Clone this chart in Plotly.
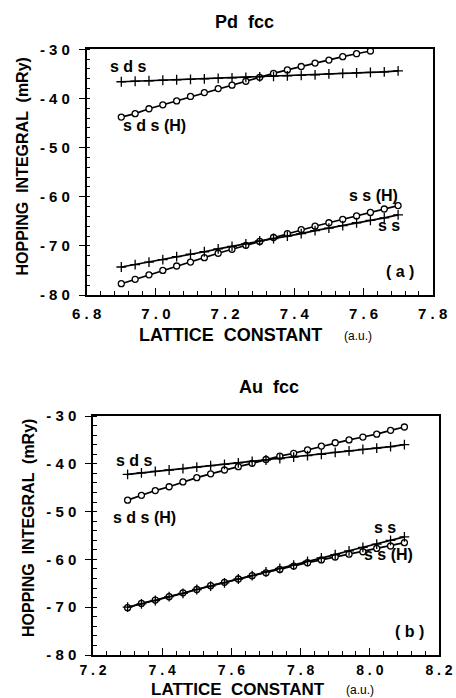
import plotly.graph_objects as go

# ---------------- data ----------------
# Panel (a) Pd fcc
pd_x = [6.90, 6.94, 6.98, 7.02, 7.06, 7.10, 7.14, 7.18, 7.22, 7.26, 7.30,
        7.34, 7.38, 7.42, 7.46, 7.50, 7.54, 7.58, 7.62, 7.66, 7.70]
pd_sds = [-36.6, -36.5, -36.4, -36.3, -36.2, -36.1, -36.0, -35.9, -35.8, -35.7, -35.6,
          -35.5, -35.4, -35.3, -35.2, -35.0, -34.9, -34.8, -34.7, -34.6, -34.4]
pd_sdsH_x = [6.90, 6.94, 6.98, 7.02, 7.06, 7.10, 7.14, 7.18, 7.22, 7.26, 7.30,
             7.34, 7.38, 7.42, 7.46, 7.50, 7.54, 7.58, 7.62]
pd_sdsH = [-43.8, -43.1, -42.1, -41.3, -40.5, -39.6, -38.8, -38.0, -37.3, -36.5, -35.7,
           -34.9, -34.2, -33.5, -32.8, -32.2, -31.5, -30.9, -30.35]
pd_ss = [-74.3, -73.8, -73.3, -72.8, -72.2, -71.7, -71.2, -70.6, -70.1, -69.6, -69.0,
         -68.5, -68.0, -67.5, -66.9, -66.4, -65.9, -65.3, -64.8, -64.3, -63.7]
pd_ssH = [-77.7, -76.8, -75.9, -75.0, -74.1, -73.3, -72.4, -71.5, -70.7, -69.9, -69.1,
          -68.3, -67.5, -66.7, -66.0, -65.3, -64.6, -63.9, -63.2, -62.5, -61.8]

# Panel (b) Au fcc
au_x = [7.30, 7.34, 7.38, 7.42, 7.46, 7.50, 7.54, 7.58, 7.62, 7.66, 7.70,
        7.74, 7.78, 7.82, 7.86, 7.90, 7.94, 7.98, 8.02, 8.06, 8.10]
au_sds = [-42.2, -41.9, -41.6, -41.3, -41.0, -40.7, -40.4, -40.1, -39.8, -39.5, -39.2,
          -38.9, -38.6, -38.3, -38.0, -37.6, -37.3, -37.0, -36.7, -36.4, -36.0]
au_sdsH = [-47.6, -46.6, -45.6, -44.8, -43.8, -42.9, -42.1, -41.3, -40.6, -39.9, -39.1,
           -38.4, -37.8, -37.1, -36.3, -35.6, -35.0, -34.4, -33.8, -33.0, -32.3]
au_ss = [-70.0, -69.3, -68.6, -67.8, -67.1, -66.3, -65.6, -64.9, -64.1, -63.4, -62.6,
         -61.9, -61.2, -60.4, -59.7, -59.0, -58.2, -57.5, -56.8, -56.0, -55.3]
au_ssH = [-70.1, -69.2, -68.5, -67.8, -67.0, -66.3, -65.5, -64.8, -64.1, -63.4, -62.8,
          -62.1, -61.4, -60.7, -60.1, -59.5, -58.9, -58.4, -57.7, -57.2, -56.5]

y_ticks = [-80, -70, -60, -50, -40, -30]
y_ticktext = ["- 8 0", "- 7 0", "- 6 0", "- 5 0", "- 4 0", "- 3 0"]
xa_ticks = [6.8, 7.0, 7.2, 7.4, 7.6, 7.8]
xa_ticktext = ["6 . 8", "7 . 0", "7 . 2", "7 . 4", "7 . 6", "7 . 8"]
xb_ticks = [7.2, 7.4, 7.6, 7.8, 8.0, 8.2]
xb_ticktext = ["7 . 2", "7 . 4", "7 . 6", "7 . 8", "8 . 0", "8 . 2"]

# ---------------- figure ----------------
W, H = 456, 698
FONT = "Liberation Sans, Arial, Helvetica, sans-serif"
BOLD = "Liberation Sans, Arial, Helvetica, sans-serif"

def px_x(p):
    return p / W

def px_y(p):
    return 1 - p / H

fig = go.Figure()

circ = dict(symbol="circle", size=6, color="white", line=dict(color="black", width=1.3))
cross = dict(symbol="cross-thin", size=7, color="black", line=dict(color="black", width=1.3))
line = dict(color="black", width=1.7)

def add(xs, ys, marker, xa, ya):
    fig.add_trace(go.Scatter(x=xs, y=ys, mode="lines+markers", line=line, marker=marker,
                             xaxis=xa, yaxis=ya, showlegend=False, hoverinfo="skip",
                             cliponaxis=False))

add(pd_sdsH_x, pd_sdsH, circ, "x", "y")
add(pd_x, pd_ssH, circ, "x", "y")
add(pd_x, pd_sds, cross, "x", "y")
add(pd_x, pd_ss, cross, "x", "y")

add(au_x, au_sdsH, circ, "x2", "y2")
add(au_x, au_ssH, circ, "x2", "y2")
add(au_x, au_sds, cross, "x2", "y2")
add(au_x, au_ss, cross, "x2", "y2")

def tickfont(size):
    return dict(family=BOLD, size=size, color="black", weight="bold")

def xaxis(dom, rng, tv, tt, anchor, size, standoff):
    return dict(domain=dom, range=rng, anchor=anchor, tickvals=tv, ticktext=tt,
                ticks="inside", ticklen=7, tickwidth=1.3, tickcolor="black",
                minor=dict(ticks="inside", ticklen=4, tickwidth=1, tickcolor="black", dtick=0.04, tick0=rng[0]),
                showline=True, linecolor="black", linewidth=1.5, mirror=True,
                showgrid=False, zeroline=False, tickfont=tickfont(size), ticklabelstandoff=standoff,
                automargin=False)

def yaxis(dom, anchor):
    return dict(domain=dom, range=[-80, -30], anchor=anchor, tickvals=y_ticks, ticktext=y_ticktext,
                ticks="outside", ticklen=6, tickwidth=1.3, tickcolor="black",
                minor=dict(ticks="inside", ticklen=4, tickwidth=1, tickcolor="black", dtick=2, tick0=-80),
                showline=True, linecolor="black", linewidth=1.5, mirror=True,
                showgrid=False, zeroline=False, tickfont=tickfont(15), ticklabelstandoff=6,
                automargin=False)

fig.update_layout(
    width=W, height=H, margin=dict(l=0, r=0, t=0, b=0, autoexpand=False),
    paper_bgcolor="white", plot_bgcolor="white",
    xaxis=xaxis([px_x(86.7), px_x(432.7)], [6.8, 7.8], xa_ticks, xa_ticktext, "y", 15, 4),
    yaxis=yaxis([px_y(295), px_y(49.3)], "x"),
    xaxis2=xaxis([px_x(93), px_x(439)], [7.2, 8.2], xb_ticks, xb_ticktext, "y2", 14, 1),
    yaxis2=yaxis([px_y(655), px_y(416)], "x2"),
)

ann = []
def lab(text, x, y, xref, yref, size=16, bold=True, angle=0):
    ann.append(dict(text=text, x=x, y=y, xref=xref, yref=yref, showarrow=False,
                    xanchor="center", yanchor="middle", textangle=angle,
                    font=dict(family=BOLD if bold else FONT, size=size, color="black",
                              weight="bold" if bold else "normal")))

# curve labels (data coords)
lab("s d s", 6.921, -33.6, "x", "y")
lab("s d s (H)", 6.997, -45.6, "x", "y")
lab("s s (H)", 7.63, -59.7, "x", "y")
lab("s s", 7.674, -65.9, "x", "y")
lab("( a )", 7.705, -75.2, "x", "y")

lab("s d s", 7.319, -39.3, "x2", "y2")
lab("s d s (H)", 7.348, -51.2, "x2", "y2")
lab("s s", 8.043, -53.4, "x2", "y2")
lab("s s (H)", 8.054, -59.0, "x2", "y2")
lab("( b )", 8.115, -75.1, "x2", "y2")

# titles and axis titles (paper coords)
lab("Pd  fcc", px_x(245), px_y(22), "paper", "paper", size=18)
lab("Au  fcc", px_x(269), px_y(387), "paper", "paper", size=18)
lab("HOPPING  INTEGRAL  (mRy)", px_x(22.5), px_y(167), "paper", "paper", size=16, angle=-90)
lab("HOPPING  INTEGRAL  (mRy)", px_x(28), px_y(528), "paper", "paper", size=16, angle=-90)
lab("LATTICE  CONSTANT", px_x(231), px_y(335), "paper", "paper", size=18)
lab("(a.u.)", px_x(358), px_y(336), "paper", "paper", size=12, bold=False)
lab("LATTICE  CONSTANT", px_x(238), px_y(689), "paper", "paper", size=17)
lab("(a.u.)", px_x(360), px_y(690), "paper", "paper", size=12, bold=False)

fig.update_layout(annotations=ann)
fig.write_html("out.html", config={"displayModeBar": False},
               post_script="document.body.style.margin='0';document.body.style.overflow='hidden';")
